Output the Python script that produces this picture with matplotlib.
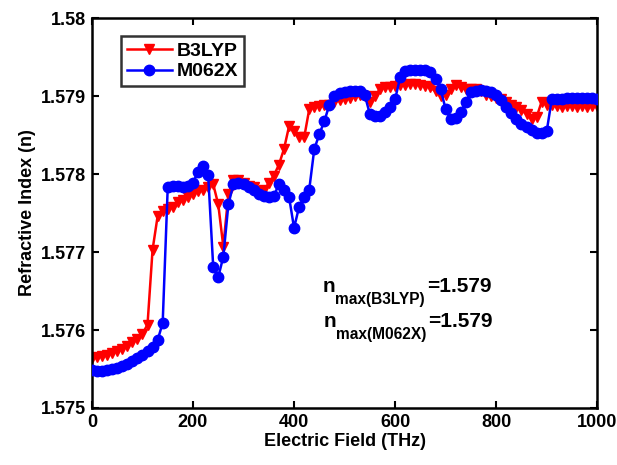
import matplotlib
matplotlib.use("Agg")
import matplotlib.pyplot as plt
import numpy as np

field = list(range(0, 1001, 10))

b3lyp = [1.57564, 1.57566, 1.57567, 1.57568, 1.57571, 1.57573, 1.57576, 1.57580, 1.57584, 1.57589,
         1.57595, 1.57607, 1.57703, 1.57746, 1.57752, 1.57755, 1.57758, 1.57764, 1.57767, 1.57771,
         1.57774, 1.57778, 1.57780, 1.57784, 1.57787, 1.57761, 1.57707, 1.57774, 1.57793, 1.57793,
         1.57789, 1.57785, 1.57783, 1.57778, 1.57780, 1.57788, 1.57798, 1.57812, 1.57832, 1.57861,
         1.57855, 1.57848, 1.57847, 1.57883, 1.57886, 1.57887, 1.57888, 1.57889, 1.57892, 1.57895,
         1.57896, 1.57898, 1.57900, 1.57901, 1.57900, 1.57893, 1.57900, 1.57909, 1.57911, 1.57911,
         1.57913, 1.57914, 1.57914, 1.57915, 1.57915, 1.57914, 1.57913, 1.57911, 1.57906, 1.57900,
         1.57901, 1.57909, 1.57914, 1.57911, 1.57909, 1.57909, 1.57909, 1.57906, 1.57902, 1.57900,
         1.57897, 1.57896, 1.57893, 1.57889, 1.57886, 1.57882, 1.57877, 1.57871, 1.57873, 1.57893,
         1.57889, 1.57888, 1.57887, 1.57886, 1.57887, 1.57887, 1.57886, 1.57887, 1.57886, 1.57887,
         1.57887]

m062x = [1.57549, 1.57548, 1.57548, 1.57549, 1.57550, 1.57551, 1.57554, 1.57557, 1.57560, 1.57564,
         1.57568, 1.57573, 1.57578, 1.57587, 1.57609, 1.57783, 1.57785, 1.57785, 1.57784, 1.57785,
         1.57789, 1.57803, 1.57810, 1.57799, 1.57681, 1.57668, 1.57694, 1.57761, 1.57787, 1.57788,
         1.57787, 1.57783, 1.57779, 1.57775, 1.57772, 1.57771, 1.57772, 1.57787, 1.57780, 1.57771,
         1.57731, 1.57758, 1.57771, 1.57780, 1.57832, 1.57851, 1.57868, 1.57889, 1.57900, 1.57904,
         1.57905, 1.57906, 1.57907, 1.57906, 1.57901, 1.57877, 1.57874, 1.57875, 1.57879, 1.57886,
         1.57896, 1.57924, 1.57932, 1.57934, 1.57934, 1.57934, 1.57933, 1.57931, 1.57922, 1.57909,
         1.57883, 1.57870, 1.57872, 1.57879, 1.57893, 1.57905, 1.57907, 1.57908, 1.57907, 1.57905,
         1.57901, 1.57895, 1.57886, 1.57878, 1.57870, 1.57864, 1.57860, 1.57856, 1.57853, 1.57853,
         1.57855, 1.57896, 1.57896, 1.57896, 1.57897, 1.57897, 1.57898, 1.57898, 1.57897, 1.57897,
         1.57896]

x_ticks = [0, 200, 400, 600, 800, 1000]
y_ticks = [1.575, 1.576, 1.577, 1.578, 1.579, 1.58]
y_tick_labels = ["1.575", "1.576", "1.577", "1.578", "1.579", "1.58"]

series_names = ['B3LYP', 'M062X']
annot_subs = ['max(B3LYP)', 'max(M062X)']
annot_vals = ['=1.579', '=1.579']

plt.rcParams['font.family'] = ['Liberation Sans', 'DejaVu Sans']
plt.rcParams['font.weight'] = 'bold'

fig = plt.figure(figsize=(6.17, 4.65), dpi=100)
ax = fig.add_axes([0.149, 0.1226, 0.819, 0.8385])

ax.plot(field, b3lyp, color='#ff0000', lw=1.8, marker='v', ms=7.5, mec='#ff0000', mfc='#ff0000',
        label=series_names[0], zorder=2)
ax.plot(field, m062x, color='#0000ff', lw=1.8, marker='o', ms=7.5, mec='#0000ff', mfc='#0000ff',
        label=series_names[1], zorder=3)

ax.set_xlim(0, 1000)
ax.set_ylim(1.575, 1.58)
ax.set_xticks(x_ticks)
ax.set_yticks(y_ticks)
ax.set_yticklabels(y_tick_labels)
ax.tick_params(direction='in', top=True, right=True, labelsize=13, length=5, width=1.5, pad=4)
for s in ax.spines.values():
    s.set_linewidth(1.8)

ax.set_xlabel('Electric Field (THz)', fontsize=13, fontweight='bold', labelpad=2)
ax.set_ylabel('Refractive Index (n)', fontsize=13, fontweight='bold', labelpad=4)

leg = ax.legend(loc='upper left', bbox_to_anchor=(0.058, 0.953), fontsize=14, frameon=True,
                fancybox=False, edgecolor='black', handlelength=2.3, borderpad=0.3,
                labelspacing=0.15, handletextpad=0.25, borderaxespad=0)
leg.get_frame().set_linewidth(1.8)

# annotations: main 'n', subscript, value
anchors_x = [456, 458]
anchors_y = [1.576491, 1.576041]
for ax_x, ax_y, sub, val in zip(anchors_x, anchors_y, annot_subs, annot_vals):
    ax.annotate('n', xy=(ax_x, ax_y), fontsize=15, fontweight='bold', va='baseline', ha='left')
    ax.annotate(sub, xy=(ax_x, ax_y), xytext=(9, -8.5), textcoords='offset points',
                fontsize=11.2, fontweight='bold', va='baseline', ha='left')
    ax.annotate(val, xy=(ax_x, ax_y), xytext=(75.5, 0), textcoords='offset points',
                fontsize=15, fontweight='bold', va='baseline', ha='left')

fig.savefig('out.png', dpi=100)
